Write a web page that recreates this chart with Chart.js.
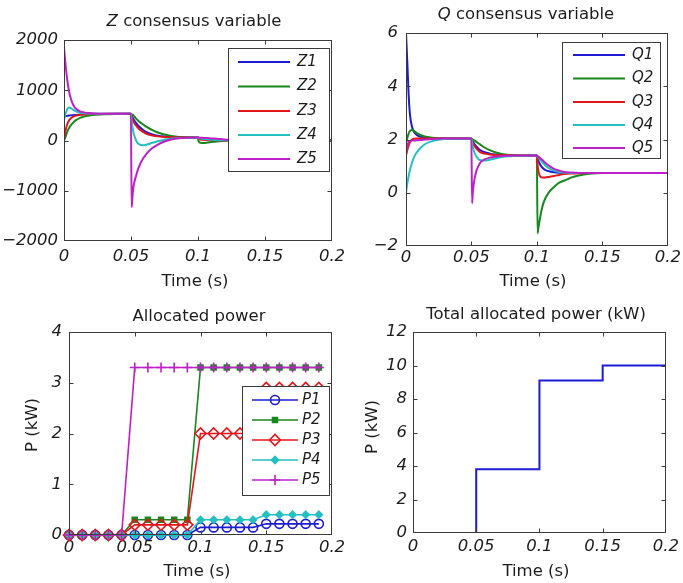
<!DOCTYPE html>
<html>
<head>
<meta charset="utf-8">
<script src="https://cdn.jsdelivr.net/npm/chart.js@4/dist/chart.umd.min.js"></script>
<style>
  html, body { margin: 0; padding: 0; background: #fff; }
  #fig { position: relative; width: 683px; height: 583px; }
  #fig canvas { position: absolute; left: 0; top: 0; }
</style>
</head>
<body>
<div id="fig">
  <canvas id="zChart" width="683" height="583"></canvas>
  <canvas id="qChart" width="683" height="583"></canvas>
  <canvas id="pChart" width="683" height="583"></canvas>
  <canvas id="tChart" width="683" height="583"></canvas>
</div>
<script>
// ---- Z consensus variable ----
const zTime = [0, 0.001, 0.002, 0.003, 0.004, 0.005, 0.007, 0.009, 0.012, 0.015, 0.019, 0.024, 0.03, 0.04, 0.0499,
  0.0505, 0.051, 0.052, 0.054, 0.056, 0.059, 0.062, 0.066, 0.07, 0.075, 0.08, 0.086, 0.093, 0.0999,
  0.1005, 0.102, 0.104, 0.107, 0.11, 0.114, 0.118, 0.123, 0.13, 0.14, 0.16, 0.2];
const z1 = [480, 485, 490, 494, 497, 500, 505, 510, 515, 520, 524, 527, 529, 530, 530,
  500, 470, 420, 340, 280, 210, 160, 120, 95, 78, 68, 63, 61, 60,
  45, 35, 28, 20, 14, 8, 4, 2, 0, 0, 0, 0];
const z2 = [0, 60, 140, 210, 260, 300, 360, 405, 450, 478, 498, 512, 522, 528, 530,
  525, 515, 495, 430, 380, 320, 265, 205, 160, 120, 92, 72, 63, 60,
  -20, -45, -50, -42, -30, -18, -10, -4, -1, 0, 0, 0];
const z3 = [30, 180, 290, 360, 410, 440, 475, 495, 510, 520, 526, 529, 530, 530, 530,
  470, 430, 370, 290, 230, 170, 130, 100, 82, 70, 64, 61, 60, 60,
  35, 20, 12, 8, 5, 3, 2, 1, 0, 0, 0, 0];
const z4 = [400, 520, 600, 645, 655, 645, 610, 580, 555, 542, 535, 532, 530, 530, 530,
  380, 280, 140, -10, -75, -95, -80, -45, -15, 15, 35, 50, 57, 60,
  50, 40, 32, 24, 17, 10, 5, 2, 0, 0, 0, 0];
const z5 = [1850, 1550, 1300, 1100, 950, 840, 700, 630, 580, 560, 545, 535, 530, 530, 530,
  -1330, -1150, -900, -680, -520, -360, -250, -150, -80, -20, 20, 45, 55, 60,
  58, 55, 52, 48, 42, 35, 25, 12, 4, 0, 0, 0];

// ---- Q consensus variable ----
const qTime = [0, 0.001, 0.002, 0.003, 0.0045, 0.006, 0.008, 0.011, 0.015, 0.02, 0.026, 0.035, 0.0499,
  0.0505, 0.051, 0.052, 0.0535, 0.055, 0.057, 0.06, 0.064, 0.068, 0.073, 0.079, 0.086, 0.094, 0.0999,
  0.1005, 0.101, 0.102, 0.1035, 0.105, 0.107, 0.11, 0.113, 0.117, 0.121, 0.126, 0.132, 0.14, 0.15, 0.2];
const q1 = [6.0, 4.9, 3.7, 2.95, 2.5, 2.3, 2.18, 2.1, 2.07, 2.05, 2.04, 2.04, 2.04,
  1.98, 1.93, 1.85, 1.75, 1.67, 1.59, 1.52, 1.47, 1.44, 1.42, 1.41, 1.40, 1.40, 1.40,
  1.3, 1.22, 1.1, 0.98, 0.9, 0.84, 0.8, 0.77, 0.75, 0.745, 0.74, 0.74, 0.74, 0.74, 0.74];
const q2 = [1.85, 2.05, 2.22, 2.32, 2.37, 2.33, 2.25, 2.17, 2.1, 2.07, 2.05, 2.04, 2.04,
  2.02, 2.0, 1.97, 1.92, 1.87, 1.80, 1.70, 1.6, 1.52, 1.46, 1.42, 1.405, 1.40, 1.40,
  -1.52, -1.35, -1.05, -0.66, -0.38, -0.15, 0.07, 0.22, 0.38, 0.46, 0.57, 0.65, 0.71, 0.74, 0.74];
const q3 = [1.4, 1.6, 1.78, 1.9, 1.99, 2.03, 2.04, 2.04, 2.04, 2.04, 2.04, 2.04, 2.04,
  1.95, 1.88, 1.78, 1.68, 1.6, 1.52, 1.47, 1.44, 1.42, 1.41, 1.40, 1.40, 1.40, 1.40,
  1.05, 0.85, 0.65, 0.58, 0.57, 0.58, 0.6, 0.63, 0.67, 0.7, 0.72, 0.735, 0.74, 0.74, 0.74];
const q4 = [0.0, 0.35, 0.62, 0.85, 1.12, 1.32, 1.5, 1.68, 1.84, 1.94, 2.0, 2.03, 2.04,
  1.85, 1.72, 1.55, 1.38, 1.28, 1.22, 1.21, 1.24, 1.29, 1.34, 1.37, 1.39, 1.40, 1.40,
  1.36, 1.33, 1.27, 1.18, 1.1, 1.0, 0.9, 0.83, 0.78, 0.76, 0.745, 0.74, 0.74, 0.74, 0.74];
const q5 = [1.45, 1.75, 1.9, 1.95, 1.96, 1.96, 1.97, 1.98, 2.0, 2.02, 2.03, 2.04, 2.04,
  -0.39, 0.0, 0.42, 0.78, 0.97, 1.15, 1.25, 1.32, 1.35, 1.38, 1.39, 1.40, 1.40, 1.40,
  1.38, 1.36, 1.32, 1.26, 1.19, 1.1, 0.99, 0.9, 0.83, 0.78, 0.76, 0.745, 0.74, 0.74, 0.74];

// ---- Allocated power per unit (kW), sampled every 10 ms ----
const pTime = [0, 0.01, 0.02, 0.03, 0.04, 0.05, 0.06, 0.07, 0.08, 0.09,
  0.1, 0.11, 0.12, 0.13, 0.14, 0.15, 0.16, 0.17, 0.18, 0.19];
const p1 = [0, 0, 0, 0, 0, 0, 0, 0, 0, 0, 0.15, 0.15, 0.15, 0.15, 0.15, 0.22, 0.22, 0.22, 0.22, 0.22];
const p2 = [0, 0, 0, 0, 0, 0.3, 0.3, 0.3, 0.3, 0.3, 3.3, 3.3, 3.3, 3.3, 3.3, 3.3, 3.3, 3.3, 3.3, 3.3];
const p3 = [0, 0, 0, 0, 0, 0.2, 0.2, 0.2, 0.2, 0.2, 2.0, 2.0, 2.0, 2.0, 2.0, 2.9, 2.9, 2.9, 2.9, 2.9];
const p4 = [0, 0, 0, 0, 0, 0, 0, 0, 0, 0, 0.3, 0.3, 0.3, 0.3, 0.3, 0.4, 0.4, 0.4, 0.4, 0.4];
const p5 = [0, 0, 0, 0, 0, 3.3, 3.3, 3.3, 3.3, 3.3, 3.3, 3.3, 3.3, 3.3, 3.3, 3.3, 3.3, 3.3, 3.3, 3.3];

// ---- Total allocated power (kW), step changes ----
const totTime = [0, 0.05, 0.1, 0.15, 0.2];
const totPower = [0, 3.8, 9.1, 10.0, 10.0];

// ---- tick labels ----
const timeTicks = ['0', '0.05', '0.1', '0.15', '0.2'];

// ---- styling ----
const W = 683, H = 583;
const FAMILY = "'DejaVu Sans', sans-serif";
const INK = '#1c1c1c';
const FRAME = '#3a3a3a';
const BLUE = '#1c1cd2', GREEN = '#1a861f', RED = '#e3161b', CYAN = '#24bfc1', MAGENTA = '#bd20c5';
const FS = 16.5;
const KEY_FS = 15;

const pts = (xs, ys) => xs.map((x, i) => ({ x, y: ys[i] }));
const minus = v => (v < 0 ? '\u2212' + Math.abs(v) : String(v));

// axes box with inward tick marks on all four sides
const framePlugin = {
  id: 'frame',
  afterDatasetsDraw(chart) {
    const { ctx, chartArea: a, scales } = chart;
    const L = Math.round(a.left) + 0.5, R = Math.round(a.right) - 0.5;
    const T = Math.round(a.top) + 0.5, B = Math.round(a.bottom) - 0.5;
    const len = 4;
    ctx.save();
    ctx.strokeStyle = FRAME;
    ctx.lineWidth = 1;
    ctx.beginPath();
    scales.x.ticks.forEach(t => {
      const px = Math.round(scales.x.getPixelForValue(t.value)) + 0.5;
      if (px <= L + 1 || px >= R - 1) return;
      ctx.moveTo(px, B); ctx.lineTo(px, B - len);
      ctx.moveTo(px, T); ctx.lineTo(px, T + len);
    });
    scales.y.ticks.forEach(t => {
      const py = Math.round(scales.y.getPixelForValue(t.value)) + 0.5;
      if (py <= T + 1 || py >= B - 1) return;
      ctx.moveTo(L, py); ctx.lineTo(L + len, py);
      ctx.moveTo(R, py); ctx.lineTo(R - len, py);
    });
    ctx.stroke();
    ctx.strokeRect(L, T, R - L, B - T);
    ctx.restore();
  }
};

// boxed legend placed inside the axes
function keyPlugin(cfg) {
  return {
    id: 'key',
    afterDraw(chart) {
      const ctx = chart.ctx;
      const [x1, y1, x2, y2] = cfg.box;
      ctx.save();
      ctx.fillStyle = '#fff';
      ctx.fillRect(x1, y1, x2 - x1, y2 - y1);
      ctx.strokeStyle = FRAME;
      ctx.lineWidth = 1;
      ctx.strokeRect(x1 + 0.5, y1 + 0.5, x2 - x1 - 1, y2 - y1 - 1);
      ctx.font = `italic ${KEY_FS}px ${FAMILY}`;
      ctx.textBaseline = 'middle';
      ctx.textAlign = 'left';
      chart.data.datasets.forEach((ds, i) => {
        const y = cfg.rows[i];
        ctx.strokeStyle = ds.borderColor;
        ctx.lineWidth = ds.borderWidth;
        ctx.beginPath();
        ctx.moveTo(cfg.line[0], y);
        ctx.lineTo(cfg.line[1], y);
        ctx.stroke();
        if (ds.pointRadius > 0 && Chart.helpers && Chart.helpers.drawPoint) {
          ctx.fillStyle = ds.pointBackgroundColor;
          ctx.strokeStyle = ds.pointBorderColor || ds.borderColor;
          ctx.lineWidth = ds.pointBorderWidth;
          Chart.helpers.drawPoint(ctx, {
            pointStyle: ds.pointStyle, radius: ds.pointRadius, rotation: 0, borderWidth: ds.pointBorderWidth
          }, (cfg.line[0] + cfg.line[1]) / 2, y);
        }
        ctx.fillStyle = INK;
        ctx.fillText(ds.label, cfg.textX, y);
      });
      ctx.restore();
    }
  };
}

// titles and axis captions, with optional italic runs
function captionPlugin(items) {
  return {
    id: 'captions',
    afterDraw(chart) {
      const ctx = chart.ctx;
      items.forEach(it => {
        ctx.save();
        ctx.translate(it.x, it.y);
        if (it.rotate) ctx.rotate(it.rotate);
        ctx.fillStyle = INK;
        ctx.textBaseline = 'middle';
        ctx.textAlign = 'left';
        const fonts = it.parts.map(p => `${p.italic ? 'italic ' : ''}${FS}px ${FAMILY}`);
        let w = 0;
        it.parts.forEach((p, i) => { ctx.font = fonts[i]; w += ctx.measureText(p.text).width; });
        let x = -w / 2;
        it.parts.forEach((p, i) => {
          ctx.font = fonts[i];
          ctx.fillText(p.text, x, 0);
          x += ctx.measureText(p.text).width;
        });
        ctx.restore();
      });
    }
  };
}

const tickFont = { family: FAMILY, size: FS, style: 'italic', lineHeight: 1.2 };

// area = [left, top, right, bottom] of the plotting box in page pixels
function makePlot(id, datasets, area, xs, ys, extraPlugins) {
  const XH = 30, YW = 64;
  return new Chart(document.getElementById(id), {
    type: 'line',
    data: { datasets },
    options: {
      responsive: false,
      animation: false,
      devicePixelRatio: 1,
      events: [],
      layout: {
        padding: { left: area[0] - YW, top: area[1], right: W - area[2], bottom: H - area[3] - XH }
      },
      scales: {
        x: {
          type: 'linear', min: xs.min, max: xs.max,
          grid: { display: false, drawTicks: false }, border: { display: false },
          ticks: {
            stepSize: xs.step, padding: xs.pad, font: tickFont, color: INK,
            maxRotation: 0, autoSkip: false, callback: xs.fmt
          },
          afterFit: s => { s.height = XH; }
        },
        y: {
          type: 'linear', min: ys.min, max: ys.max,
          grid: { display: false, drawTicks: false }, border: { display: false },
          ticks: {
            stepSize: ys.step, padding: ys.pad, font: tickFont, color: INK,
            autoSkip: false, callback: ys.fmt
          },
          afterFit: s => { s.width = YW; }
        }
      },
      plugins: { legend: { display: false }, tooltip: { enabled: false } }
    },
    plugins: [framePlugin].concat(extraPlugins)
  });
}

const timeFmt = v => timeTicks[Math.round(v / 0.05)] ?? '';
const curve = (label, xs, ys, color, order) => ({
  label, data: pts(xs, ys), borderColor: color, backgroundColor: color,
  borderWidth: 2, pointRadius: 0, cubicInterpolationMode: 'monotone', order, fill: false
});

// Z consensus variable
makePlot('zChart', [
  curve('Z1', zTime, z1, BLUE, 5),
  curve('Z2', zTime, z2, GREEN, 4),
  curve('Z3', zTime, z3, RED, 3),
  curve('Z4', zTime, z4, CYAN, 2),
  curve('Z5', zTime, z5, MAGENTA, 1)
], [64, 40, 332, 241],
  { min: 0, max: 0.2, step: 0.05, pad: 6, fmt: timeFmt },
  { min: -2000, max: 2000, step: 1000, pad: 6, fmt: minus },
  [keyPlugin({ box: [228, 48, 330, 172], rows: [62, 86.5, 111, 135, 159], line: [238, 290], textX: 297 }),
   captionPlugin([
     { x: 194, y: 22, parts: [{ text: 'Z', italic: true }, { text: ' consensus variable' }] },
     { x: 195, y: 282, parts: [{ text: 'Time (s)' }] }
   ])]);

// Q consensus variable
makePlot('qChart', [
  curve('Q1', qTime, q1, BLUE, 5),
  curve('Q2', qTime, q2, GREEN, 4),
  curve('Q3', qTime, q3, RED, 3),
  curve('Q4', qTime, q4, CYAN, 2),
  curve('Q5', qTime, q5, MAGENTA, 1)
], [406, 33, 668, 246],
  { min: 0, max: 0.2, step: 0.05, pad: 2, fmt: timeFmt },
  { min: -2, max: 6, step: 2, pad: 8, fmt: minus },
  [keyPlugin({ box: [562, 42, 661, 159], rows: [55, 78.5, 102, 125, 148], line: [573, 625], textX: 632 }),
   captionPlugin([
     { x: 526, y: 15, parts: [{ text: 'Q', italic: true }, { text: ' consensus variable' }] },
     { x: 533, y: 282, parts: [{ text: 'Time (s)' }] }
   ])]);

// Allocated power per unit
const marked = (label, ys, color, style, radius, filled, order) => ({
  label, data: pts(pTime, ys), borderColor: color, borderWidth: 1.6,
  pointStyle: style, pointRadius: radius, pointBorderWidth: 1.6, pointBorderColor: color,
  pointBackgroundColor: filled ? color : 'rgba(255,255,255,0)',
  tension: 0, order, clip: false, fill: false
});
makePlot('pChart', [
  marked('P1', p1, BLUE, 'circle', 4.5, false, 5),
  marked('P2', p2, GREEN, 'rect', 3.5, true, 4),
  marked('P3', p3, RED, 'rectRot', 5.5, false, 3),
  marked('P4', p4, CYAN, 'rectRot', 3.5, true, 2),
  marked('P5', p5, MAGENTA, 'cross', 5, false, 1)
], [69, 332, 332, 535],
  { min: 0, max: 0.2, step: 0.05, pad: 3, fmt: timeFmt },
  { min: 0, max: 4, step: 1, pad: 7, fmt: minus },
  [keyPlugin({ box: [242, 386, 330, 496], rows: [400, 420, 440, 460, 480], line: [252, 298], textX: 302 }),
   captionPlugin([
     { x: 199, y: 317, parts: [{ text: 'Allocated power' }] },
     { x: 197, y: 572, parts: [{ text: 'Time (s)' }] },
     { x: 33, y: 425, rotate: -Math.PI / 2, parts: [{ text: 'P (kW)' }] }
   ])]);

// Total allocated power
makePlot('tChart', [
  { label: 'Total', data: pts(totTime, totPower), borderColor: BLUE, borderWidth: 2,
    pointRadius: 0, stepped: 'before', fill: false }
], [413, 332, 669, 533],
  { min: 0, max: 0.2, step: 0.05, pad: 4, fmt: timeFmt },
  { min: 0, max: 12, step: 2, pad: 6, fmt: minus },
  [captionPlugin([
     { x: 536, y: 315, parts: [{ text: 'Total allocated power (kW)' }] },
     { x: 536, y: 572, parts: [{ text: 'Time (s)' }] },
     { x: 373, y: 427, rotate: -Math.PI / 2, parts: [{ text: 'P (kW)' }] }
   ])]);
</script>
</body>
</html>
